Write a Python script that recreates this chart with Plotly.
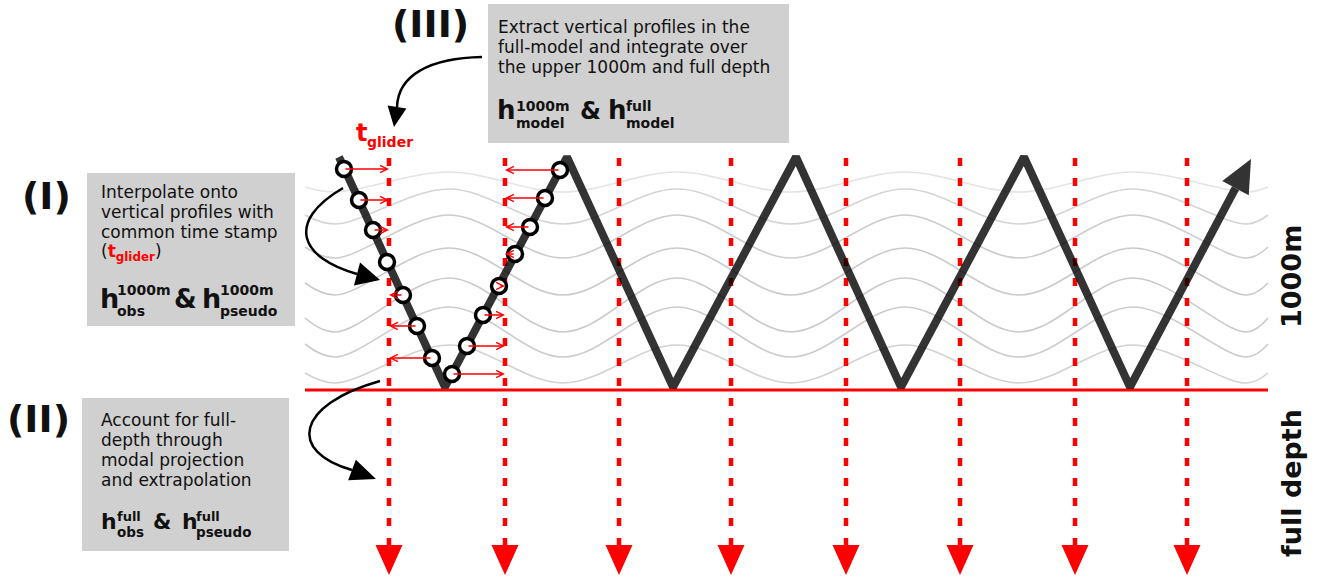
import math
import plotly.graph_objects as go

# --- schematic values (pixel units, y grows downward) ---

# glider saw-tooth track: surface / 1000 m turning points, last point = arrow tip
glider_x = [339, 445, 567, 673, 796, 901, 1024, 1130, 1251]
glider_y = [157, 387, 157, 387, 157, 387, 157, 387, 159]

# vertical profiles (common time stamp t_glider)
profile_x = [389, 505, 619, 731, 846, 960, 1075, 1187]
profile_top = 158
profile_bottom = 545
profile_tip = 575

# 1000 m level
layer_x = [305, 1268]
layer_y = 390

# glider samples on the first dive/climb and the profile each goes onto
sample_x = [344, 359, 373, 387, 403, 417, 432, 452, 467, 483, 499, 515, 530, 545, 560]
sample_y = [169, 200, 230, 262, 295, 326, 358, 374, 346, 315, 286, 254, 227, 198, 170]
sample_profile = [0, 0, 0, 0, 0, 0, 0, 1, 1, 1, 1, 1, 1, 1, 1]

# isopycnals: turning points along x, crest / trough / edge heights per line
wave_node_x = [305, 335, 449, 563, 677, 791, 905, 1019, 1133, 1247, 1268]
wave_crest = [172, 189, 215, 248, 278, 307, 345]
wave_trough = [192, 224, 258, 295, 332, 357, 383]
wave_edge = [187, 215, 247, 283, 318, 344, 373]

# curved callout arrows: cubic bezier (start, c1, c2, end) and arrow tip
curve_I = [(343, 188), (285, 222), (300, 258), (357, 274)]
tip_I = (380, 280)
curve_II = [(380, 381), (295, 405), (288, 452), (352, 470)]
tip_II = (376, 479)
curve_III = [(482, 57), (430, 58), (398, 75), (397, 107)]
tip_III = (394, 127)

box3_lines = ["Extract vertical profiles in the",
              "full-model and integrate over",
              "the upper 1000m and full depth"]
box1_lines = ["Interpolate onto",
              "vertical profiles with",
              "common time stamp",
              "(<span style='color:#ff0000'><b>t</b><sub><b>glider</b></sub></span>)"]
box2_lines = ["Account for full-",
              "depth through",
              "modal projection",
              "and extrapolation"]

FONT = "DejaVu Sans"
INK = "#111111"
RED = "#ff0000"
GLIDER = "rgba(0,0,0,0.8)"
BOX = "#d0d0d0"
wave_colors = ["#e4e4e4", "#d4d4d4", "#cccccc", "#cacaca", "#cacaca", "#cccccc", "#d2d2d2"]


def head(tip, base, width):
    dx, dy = tip[0] - base[0], tip[1] - base[1]
    n = math.hypot(dx, dy)
    px, py = -dy / n * width / 2, dx / n * width / 2
    return [base[0] + px, tip[0], base[0] - px, base[0] + px], \
           [base[1] + py, tip[1], base[1] - py, base[1] + py]


fig = go.Figure()

# isopycnals
for i in range(len(wave_crest)):
    ys = [wave_edge[i]]
    for k in range(1, len(wave_node_x) - 1):
        ys.append(wave_trough[i] if k % 2 == 1 else wave_crest[i])
    ys.append(wave_edge[i])
    fig.add_trace(go.Scatter(x=wave_node_x, y=ys, mode="lines", hoverinfo="skip",
                             line=dict(color=wave_colors[i], width=1.6, shape="spline")))

# 1000 m line
fig.add_trace(go.Scatter(x=layer_x, y=[layer_y] * len(layer_x), mode="lines",
                         hoverinfo="skip", line=dict(color=RED, width=3)))

# dotted profiles
for px in profile_x:
    fig.add_trace(go.Scatter(x=[px, px], y=[profile_top, profile_bottom], mode="lines",
                             hoverinfo="skip",
                             line=dict(color=RED, width=4.5, dash="8px,12px")))

tx, ty = [], []
for px in profile_x:
    hx, hy = head((px, profile_tip), (px, profile_bottom), 27)
    tx += hx + [None]
    ty += hy + [None]
fig.add_trace(go.Scatter(x=tx, y=ty, mode="lines", fill="toself", fillcolor=RED,
                         line=dict(color=RED, width=0), hoverinfo="skip"))

# glider track, cut back where the arrow head starts
tip = (glider_x[-1], glider_y[-1])
prev = (glider_x[-2], glider_y[-2])
L = math.hypot(tip[0] - prev[0], tip[1] - prev[1])
base = (tip[0] - 33 * (tip[0] - prev[0]) / L, tip[1] - 33 * (tip[1] - prev[1]) / L)
fig.add_trace(go.Scatter(x=glider_x[:-1] + [base[0]], y=glider_y[:-1] + [base[1]],
                         mode="lines", hoverinfo="skip", line=dict(color=GLIDER, width=8)))
hx, hy = head(tip, base, 30)
fig.add_trace(go.Scatter(x=hx, y=hy, mode="lines", fill="toself", fillcolor=GLIDER,
                         line=dict(width=0, color=GLIDER), hoverinfo="skip"))

# glider samples
fig.add_trace(go.Scatter(x=sample_x, y=sample_y, mode="markers", hoverinfo="skip",
                         marker=dict(symbol="circle", size=15, color="white",
                                     line=dict(color="black", width=3.5))))

# interpolation arrows onto the profiles
for sx, sy, p in zip(sample_x, sample_y, sample_profile):
    fig.add_annotation(x=profile_x[p], y=sy, ax=sx, ay=sy, xref="x", yref="y",
                       axref="x", ayref="y", text="", showarrow=True,
                       arrowhead=5, arrowsize=1.1, arrowwidth=1.3, arrowcolor=RED,
                       standoff=0, startstandoff=0)

# grey text boxes
for x0, y0, x1, y1 in [(488, 4, 789, 143), (87, 173, 295, 326), (82, 398, 289, 551)]:
    fig.add_shape(type="rect", x0=x0, y0=y0, x1=x1, y1=y1, xref="x", yref="y",
                  fillcolor=BOX, line=dict(width=0), layer="below")

# curved callouts
for curve, tp, w in [(curve_I, tip_I, 24), (curve_II, tip_II, 22), (curve_III, tip_III, 19)]:
    (x0, y0), (x1, y1), (x2, y2), (x3, y3) = curve
    fig.add_shape(type="path", xref="x", yref="y", layer="above",
                  path=f"M {x0},{y0} C {x1},{y1} {x2},{y2} {x3},{y3}",
                  line=dict(color="black", width=2.5))
    hx, hy = head(tp, curve[-1], w)
    fig.add_shape(type="path", xref="x", yref="y", layer="above",
                  path=f"M {hx[0]},{hy[0]} L {hx[1]},{hy[1]} L {hx[2]},{hy[2]} Z",
                  fillcolor="black", line=dict(width=0))


def label(text, x, y, size, color=INK, bold=False, anchor="left", angle=0):
    if bold:
        text = f"<b>{text}</b>"
    fig.add_annotation(text=text, x=x, y=y, xref="x", yref="y", showarrow=False,
                       xanchor=anchor, yanchor="middle", textangle=angle, align="left",
                       font=dict(family=FONT, size=size, color=color),
                       borderpad=0, borderwidth=0)


for i, t in enumerate(box3_lines):
    label(t, 498, 27 + 20 * i, 17)
for i, t in enumerate(box1_lines):
    label(t, 101, 192 + 20 * i, 17)
for i, t in enumerate(box2_lines):
    label(t, 101, 420 + 20 * i, 17)

# h formulas
label("h", 497, 110, 26, bold=True)
label("1000m", 516, 106, 14, bold=True)
label("model", 516, 123, 14, bold=True)
label("&", 580, 111, 24, bold=True)
label("h", 608, 110, 26, bold=True)
label("full", 626, 106, 14, bold=True)
label("model", 626, 123, 14, bold=True)

label("h", 100, 298, 27, bold=True)
label("1000m", 117, 290, 14, bold=True)
label("obs", 117, 311, 14, bold=True)
label("&", 174, 299, 26, bold=True)
label("h", 202, 298, 27, bold=True)
label("1000m", 220, 290, 14, bold=True)
label("pseudo", 220, 311, 14, bold=True)

label("h", 101, 521, 22, bold=True)
label("full", 117, 516, 13, bold=True)
label("obs", 117, 532, 13.5, bold=True)
label("&", 153, 522, 21, bold=True)
label("h", 182, 521, 22, bold=True)
label("full", 196, 516, 13, bold=True)
label("pseudo", 196, 532, 13.5, bold=True)

# step labels
label("(III)", 430, 24, 38, bold=True, anchor="center")
label("(I)", 46, 196, 38, bold=True, anchor="center")
label("(II)", 38, 419, 38, bold=True, anchor="center")

# t_glider tag
label("t", 356, 133, 24, color=RED, bold=True)
label("glider", 367, 142, 14, color=RED, bold=True)

# depth labels
label("1000m", 1291, 277, 27, bold=True, anchor="center", angle=-90)
label("full depth", 1291, 483, 27, bold=True, anchor="center", angle=-90)

fig.update_layout(
    width=1317, height=580, autosize=False,
    margin=dict(l=0, r=0, t=0, b=0, pad=0),
    paper_bgcolor="white", plot_bgcolor="white",
    showlegend=False,
    xaxis=dict(range=[0, 1317], visible=False, fixedrange=True),
    yaxis=dict(range=[580, 0], visible=False, fixedrange=True),
)

fig.write_html("out.html", config={"displayModeBar": False},
               post_script="document.body.style.margin='0';document.body.style.overflow='hidden';")
